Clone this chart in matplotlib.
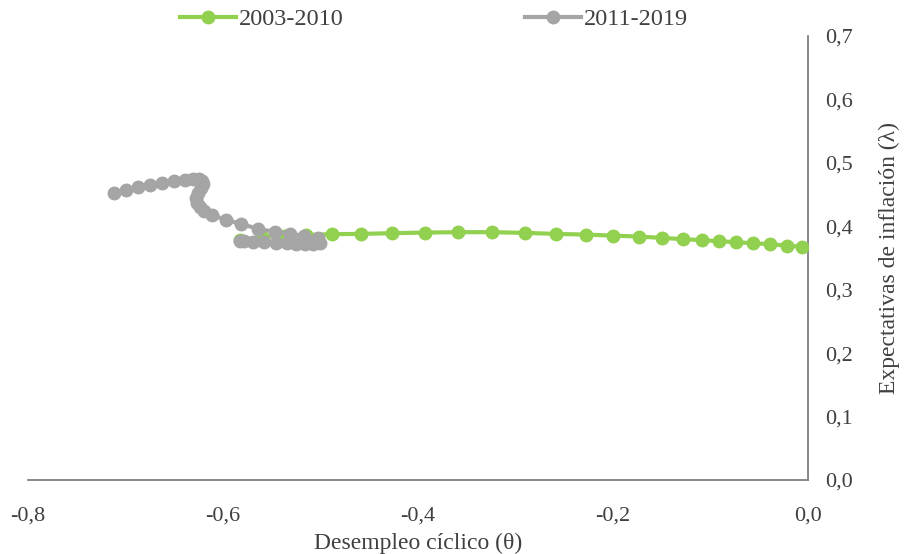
import matplotlib
matplotlib.use("Agg")
import matplotlib.pyplot as plt
from matplotlib.ticker import FuncFormatter

plt.rcParams['font.family'] = ['Liberation Serif', 'DejaVu Serif']

# Data
g_x = [-0.5826, -0.560, -0.5374, -0.5149, -0.4882, -0.4585, -0.4267, -0.3928, -0.3590,
       -0.3241, -0.2903, -0.2585, -0.2277, -0.2000, -0.1733, -0.1497, -0.1282, -0.1087,
       -0.0913, -0.0738, -0.0564, -0.0390, -0.0215, -0.0062]
g_y = [0.3785, 0.3833, 0.3849, 0.3864, 0.3875, 0.3880, 0.3891, 0.3901, 0.3907,
       0.3907, 0.3896, 0.3880, 0.3869, 0.3853, 0.3838, 0.3817, 0.3797, 0.3781,
       0.3765, 0.3749, 0.3733, 0.3718, 0.3696, 0.3675]

s_x = [-0.7118, -0.6995, -0.6872, -0.6749, -0.6626, -0.6503, -0.6390, -0.6308, -0.6246,
       -0.6215, -0.6205, -0.6226, -0.6256, -0.6277, -0.6267, -0.6236, -0.6195, -0.6113,
       -0.5969, -0.5815, -0.5641, -0.5467, -0.5313, -0.5169, -0.5026, -0.5005, -0.5077,
       -0.5159, -0.5251, -0.5344, -0.5456, -0.5579, -0.5692, -0.5785, -0.5826]
s_y = [0.4527, 0.4574, 0.4621, 0.4653, 0.4685, 0.4716, 0.4732, 0.4748, 0.4748,
       0.4716, 0.4669, 0.4606, 0.4527, 0.4448, 0.4369, 0.4306, 0.4243, 0.4180,
       0.4101, 0.4038, 0.3959, 0.3912, 0.3880, 0.3849, 0.3817, 0.3738, 0.3722,
       0.3722, 0.3722, 0.3738, 0.3738, 0.3754, 0.3754, 0.3770, 0.3770]

labels = ['2003-2010', '2011-2019']
x_ticks = [-0.8, -0.6, -0.4, -0.2, 0.0]
y_ticks = [0.0, 0.1, 0.2, 0.3, 0.4, 0.5, 0.6, 0.7]

fig = plt.figure(figsize=(9.06, 5.54), dpi=100)
ax = fig.add_axes([28/906, 1-480/554, (808-28)/906, (480-36)/554])

ax.plot(g_x, g_y, color='#92D050', lw=3, marker='o', ms=9, label=labels[0], zorder=3)
ax.plot(s_x, s_y, color='#A5A5A5', lw=3, marker='o', ms=9, label=labels[1], zorder=4)

ax.set_xlim(-0.8, 0.0)
ax.set_ylim(0.0, 0.7)
ax.set_xticks(x_ticks)
ax.set_yticks(y_ticks)
fmt = FuncFormatter(lambda v, p: f"{v:.1f}".replace('.', ','))
ax.xaxis.set_major_formatter(fmt)
ax.yaxis.set_major_formatter(fmt)

for s in ['left', 'top']:
    ax.spines[s].set_visible(False)
for s in ['bottom', 'right']:
    ax.spines[s].set_color('#7f7f7f')
    ax.spines[s].set_linewidth(1.3)

ax.yaxis.tick_right()
ax.yaxis.set_label_position('right')
ax.tick_params(axis='both', length=0, labelsize=16, colors='#404040')
ax.tick_params(axis='x', pad=19)
ax.tick_params(axis='y', pad=12)

ax.set_xlabel('Desempleo cíclico (θ)', fontsize=17, color='#404040', labelpad=5)
ax.set_ylabel('Expectativas de inflación (λ)', fontsize=17, color='#404040', labelpad=19)

leg = fig.legend(loc='center', bbox_to_anchor=(434/906, 1-19/554), ncol=2, frameon=False,
                 fontsize=17.5, handlelength=2.3, columnspacing=7.5, handletextpad=0.1,
                 labelcolor='#404040')

fig.savefig('out.png', dpi=100)
